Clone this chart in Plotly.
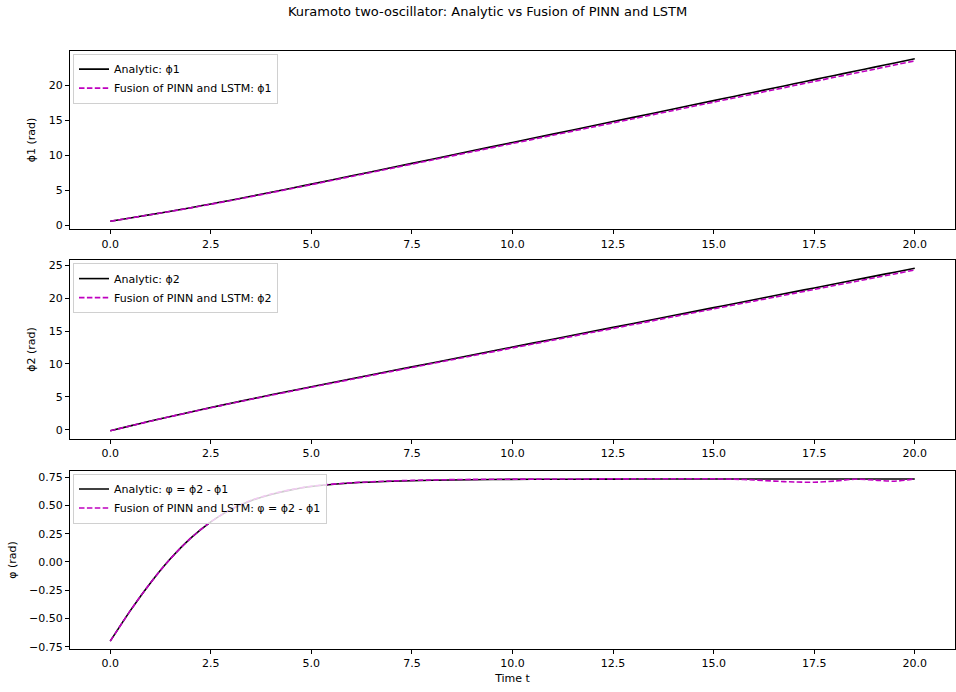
import plotly.graph_objects as go

t = [0, 0.5, 1, 1.5, 2, 2.5, 3, 3.5, 4, 4.5, 5, 6, 7, 8, 9, 10, 11, 12, 13, 14, 15,
     15.5, 16, 16.5, 17, 17.5, 18, 18.5, 19, 19.5, 20]

phi1_analytic = [0.55, 1.01, 1.49, 1.98, 2.49, 3.02, 3.56, 4.12, 4.70, 5.28, 5.86, 7.05, 8.24,
                 9.43, 10.63, 11.83, 13.02, 14.22, 15.42, 16.62, 17.82, 18.42, 19.02, 19.62,
                 20.22, 20.82, 21.42, 22.01, 22.61, 23.21, 23.81]
phi1_fusion = [0.55, 1.00, 1.48, 1.96, 2.46, 2.98, 3.52, 4.07, 4.64, 5.21, 5.79, 6.96, 8.14,
               9.31, 10.50, 11.68, 12.86, 14.04, 15.22, 16.41, 17.60, 18.19, 18.78, 19.37,
               19.97, 20.56, 21.15, 21.73, 22.32, 22.92, 23.51]

phi2_analytic = [-0.15, 0.58, 1.31, 2.01, 2.70, 3.37, 4.03, 4.66, 5.30, 5.92, 6.53, 7.74, 8.95,
                 10.15, 11.35, 12.56, 13.75, 14.95, 16.15, 17.35, 18.55, 19.15, 19.75, 20.35,
                 20.95, 21.55, 22.15, 22.74, 23.34, 23.94, 24.54]
phi2_fusion = [-0.15, 0.57, 1.30, 1.99, 2.67, 3.33, 3.98, 4.62, 5.24, 5.85, 6.46, 7.66, 8.86,
               10.05, 11.23, 12.43, 13.61, 14.80, 15.98, 17.17, 18.36, 18.95, 19.54, 20.13,
               20.72, 21.32, 21.92, 22.50, 23.09, 23.67, 24.28]

dphi_analytic = [-0.70, -0.43, -0.185, 0.03, 0.21, 0.355, 0.465, 0.542, 0.597, 0.637, 0.667,
                 0.698, 0.713, 0.722, 0.727, 0.730, 0.731, 0.732, 0.733, 0.733, 0.733, 0.733,
                 0.733, 0.733, 0.733, 0.733, 0.733, 0.733, 0.733, 0.733, 0.733]
dphi_fusion = [-0.70, -0.43, -0.185, 0.03, 0.21, 0.355, 0.465, 0.545, 0.60, 0.64, 0.67,
               0.70, 0.716, 0.725, 0.73, 0.732, 0.733, 0.734, 0.735, 0.736, 0.735, 0.732, 0.725,
               0.715, 0.707, 0.705, 0.715, 0.731, 0.724, 0.714, 0.735]

panels = [
    (phi1_analytic, phi1_fusion, "ϕ1 (rad)", "Analytic: ϕ1", "Fusion of PINN and LSTM: ϕ1", 5, None),
    (phi2_analytic, phi2_fusion, "ϕ2 (rad)", "Analytic: ϕ2", "Fusion of PINN and LSTM: ϕ2", 5, None),
    (dphi_analytic, dphi_fusion, "φ (rad)", "Analytic: φ = ϕ2 - ϕ1",
     "Fusion of PINN and LSTM: φ = ϕ2 - ϕ1", 0.25, ".2f"),
]

W, H = 956, 692
left, right = 70, 955
boxes = [(50, 230), (261, 441), (473, 653)]

FONT = "DejaVu Sans, Arial, sans-serif"
fig = go.Figure()
layout = {}
for i, (ya, yf, ytitle, la, lf, dt, fmt) in enumerate(panels):
    n = "" if i == 0 else str(i + 1)
    leg = "legend" + n
    fig.add_trace(go.Scatter(x=t, y=ya, mode="lines", name=la,
                             line=dict(color="black", width=1.6, shape="spline", smoothing=0.8),
                             xaxis="x" + n, yaxis="y" + n, legend=leg))
    fig.add_trace(go.Scatter(x=t, y=yf, mode="lines", name=lf,
                             line=dict(color="#bf00bf", width=1.6, dash="5.5px,2.4px",
                                       shape="spline", smoothing=0.8),
                             xaxis="x" + n, yaxis="y" + n, legend=leg))
    top, bot = boxes[i]
    lo = min(min(ya), min(yf)); hi = max(max(ya), max(yf))
    pad = 0.05 * (hi - lo)
    axstyle = dict(showline=True, linecolor="black", linewidth=1, mirror=True,
                   ticks="outside", ticklen=4, tickcolor="black", showgrid=False,
                   zeroline=False, tickfont=dict(family=FONT, size=11, color="black"))
    layout["xaxis" + n] = dict(domain=[left / W, right / W], range=[-1, 21],
                               tickmode="linear", tick0=0, dtick=2.5, tickformat=".1f",
                               anchor="y" + n, **axstyle)
    yax = dict(domain=[1 - bot / H, 1 - top / H], range=[lo - pad, hi + pad],
               tickmode="linear", tick0=0, dtick=dt, anchor="x" + n,
               title=dict(text=ytitle, font=dict(family=FONT, size=11, color="black"), standoff=10),
               **axstyle)
    if fmt:
        yax["tickformat"] = fmt
    layout["yaxis" + n] = yax
    layout[leg] = dict(x=73 / W, y=1 - (top + 3) / H, xanchor="left", yanchor="top",
                       bgcolor="rgba(255,255,255,0.8)", bordercolor="#d0d0d0", borderwidth=1,
                       font=dict(family=FONT, size=11, color="black"),
                       tracegroupgap=0, itemwidth=30)

layout["xaxis3"]["title"] = dict(text="Time t", font=dict(family=FONT, size=11, color="black"),
                                  standoff=4)

fig.update_layout(**layout)
fig.update_layout(
    width=W, height=H, margin=dict(l=0, r=0, t=0, b=0),
    paper_bgcolor="white", plot_bgcolor="white", showlegend=True,
    font=dict(family=FONT, size=11, color="black"),
    title=dict(text="Kuramoto two-oscillator: Analytic vs Fusion of PINN and LSTM",
               x=0.51, xanchor="center", y=1 - 11 / H, yanchor="middle",
               font=dict(family=FONT, size=13, color="black")),
)

fig.write_html("out.html")
